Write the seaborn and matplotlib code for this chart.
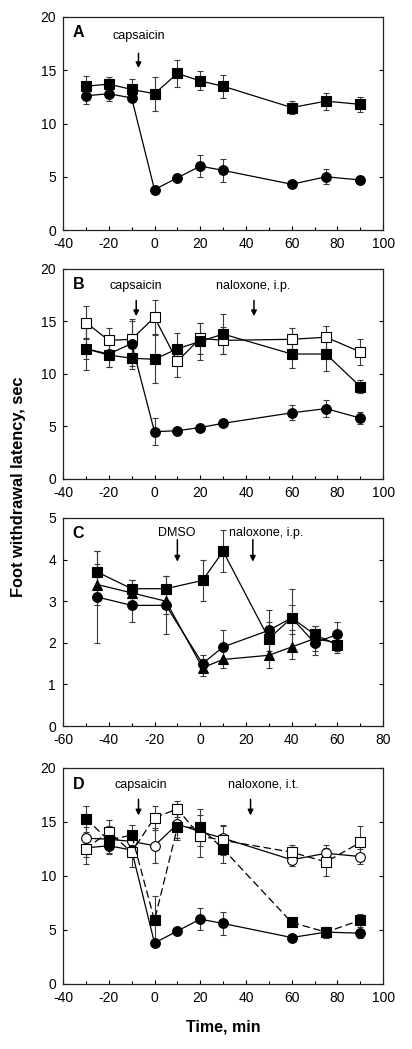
import matplotlib
matplotlib.use("Agg")
import matplotlib.pyplot as plt
from matplotlib.ticker import MultipleLocator
import pandas as pd
import seaborn as sns

# ---- data ----
# panel A
t_a = [-30, -20, -10, 0, 10, 20, 30, 60, 75, 90]
a_sq = [13.5, 13.7, 13.2, 12.8, 14.7, 14.0, 13.5, 11.5, 12.1, 11.8]
a_sq_err = [1.0, 0.7, 1.0, 1.6, 1.3, 0.9, 1.1, 0.6, 0.8, 0.7]
a_ci = [12.6, 12.8, 12.4, 3.8, 4.9, 6.0, 5.6, 4.3, 5.0, 4.7]
a_ci_err = [0.8, 0.7, 0.3, 0.2, 0.4, 1.0, 1.1, 0.3, 0.7, 0.4]

# panel B
t_b = [-30, -20, -10, 0, 10, 20, 30, 60, 75, 90]
b_osq = [14.9, 13.2, 13.3, 15.4, 11.2, 13.4, 13.2, 13.3, 13.5, 12.1]
b_osq_err = [1.6, 1.2, 1.9, 1.6, 1.5, 1.5, 1.3, 1.1, 1.1, 1.2]
b_sq = [12.4, 11.8, 11.5, 11.4, 12.4, 13.1, 13.8, 11.9, 11.9, 8.8]
b_sq_err = [1.0, 1.1, 1.0, 2.3, 1.5, 1.8, 1.9, 1.3, 1.6, 0.6]
b_ci = [12.4, 11.9, 12.9, 4.5, 4.6, 4.9, 5.3, 6.3, 6.7, 5.8]
b_ci_err = [2.0, 1.2, 2.1, 1.3, 0.2, 0.2, 0.3, 0.7, 0.8, 0.6]

# panel C
t_c = [-45, -30, -15, 1, 10, 30, 40, 50, 60]
c_sq = [3.7, 3.3, 3.3, 3.5, 4.2, 2.1, 2.6, 2.2, 1.95]
c_sq_err = [0.5, 0.2, 0.3, 0.5, 0.5, 0.4, 0.7, 0.2, 0.2]
c_ci = [3.1, 2.9, 2.9, 1.5, 1.9, 2.3, 2.6, 2.0, 2.2]
c_ci_err = [1.1, 0.4, 0.7, 0.2, 0.4, 0.5, 0.3, 0.3, 0.3]
c_tr = [3.4, 3.2, 3.0, 1.4, 1.6, 1.7, 1.9, 2.1, 2.0]
c_tr_err = [0.5, 0.3, 0.3, 0.2, 0.2, 0.3, 0.3, 0.3, 0.2]

# panel D
t_d = [-30, -20, -10, 0, 10, 20, 30, 60, 75, 90]
d_ci = [12.6, 12.8, 12.4, 3.8, 4.9, 6.0, 5.6, 4.3, 4.8, 4.7]
d_ci_err = [0.8, 0.7, 0.3, 0.2, 0.4, 1.0, 1.1, 0.3, 0.5, 0.4]
d_oci = [13.5, 13.4, 13.2, 12.8, 14.8, 14.1, 13.5, 11.5, 12.1, 11.8]
d_oci_err = [1.0, 0.7, 1.0, 1.6, 1.3, 0.9, 1.1, 0.6, 0.8, 0.7]
d_osq = [12.5, 14.1, 12.2, 15.4, 16.2, 13.7, 13.3, 12.2, 11.3, 13.1]
d_osq_err = [1.4, 1.1, 1.4, 1.1, 0.7, 1.9, 1.4, 0.7, 1.3, 1.5]
d_sq = [15.3, 13.3, 13.8, 5.9, 14.5, 14.5, 12.5, 5.7, 4.8, 5.9]
d_sq_err = [1.2, 1.3, 0.9, 2.2, 1.2, 1.7, 1.3, 0.3, 0.5, 0.6]

sns.set_style("ticks")
plt.rcParams['font.family'] = ['Liberation Sans', 'DejaVu Sans']
plt.rcParams['axes.unicode_minus'] = False
for k in ['text.color', 'xtick.color', 'ytick.color', 'axes.labelcolor',
          'axes.edgecolor']:
    plt.rcParams[k] = 'black'

fig = plt.figure(figsize=(4.12, 10.49), dpi=100)
L, W = 0.153, 0.777
boxes = [(0.7807, 0.2031), (0.5434, 0.2002), (0.3079, 0.1983), (0.0620, 0.2059)]
axes = [fig.add_axes([L, b, W, h]) for b, h in boxes]


def series(ax, t, y, err, marker, filled=True, ls='-'):
    df = pd.DataFrame({'t': t, 'y': y})
    ax.errorbar(t, y, yerr=err, fmt='none', ecolor='#3a3a3a', elinewidth=0.8,
                capsize=2, capthick=0.8, zorder=1)
    sns.lineplot(data=df, x='t', y='y', ax=ax, color='black', lw=0.9,
                 linestyle=ls, marker=marker, markersize=7,
                 markerfacecolor='black' if filled else 'white',
                 markeredgecolor='black', markeredgewidth=0.8, zorder=3)
    if ls != '-':
        ax.lines[-1].set_dashes([6, 3])


def arrow(ax, x, y0, y1, label, lx=None, ly=None):
    ax.annotate('', xy=(x, y1), xytext=(x, y0),
                arrowprops=dict(arrowstyle='-|>', color='black', lw=1.1,
                                mutation_scale=8, shrinkA=0, shrinkB=0))
    ax.text(x if lx is None else lx, ly, label, ha='center', va='center',
            fontsize=9)


series(axes[0], t_a, a_sq, a_sq_err, 's')
series(axes[0], t_a, a_ci, a_ci_err, 'o')
arrow(axes[0], -7, 16.6, 15.2, 'capsaicin', ly=18.2)

series(axes[1], t_b, b_osq, b_osq_err, 's', filled=False)
series(axes[1], t_b, b_sq, b_sq_err, 's')
series(axes[1], t_b, b_ci, b_ci_err, 'o')
arrow(axes[1], -8, 17.0, 15.5, 'capsaicin', ly=18.4)
arrow(axes[1], 43.5, 17.0, 15.5, 'naloxone, i.p.', lx=43, ly=18.4)

series(axes[2], t_c, c_sq, c_sq_err, 's')
series(axes[2], t_c, c_ci, c_ci_err, 'o')
series(axes[2], t_c, c_tr, c_tr_err, '^')
arrow(axes[2], -10, 4.48, 3.95, 'DMSO', lx=-10.4, ly=4.64)
arrow(axes[2], 23, 4.48, 3.95, 'naloxone, i.p.', lx=29, ly=4.64)

series(axes[3], t_d, d_oci, d_oci_err, 'o', filled=False)
series(axes[3], t_d, d_ci, d_ci_err, 'o')
series(axes[3], t_d, d_osq, d_osq_err, 's', filled=False, ls='--')
series(axes[3], t_d, d_sq, d_sq_err, 's', ls='--')
arrow(axes[3], -7, 17.1, 15.6, 'capsaicin', lx=-6, ly=18.45)
arrow(axes[3], 42, 17.1, 15.6, 'naloxone, i.t.', lx=47.5, ly=18.45)

letters = ['A', 'B', 'C', 'D']
for i, ax in enumerate(axes):
    if i == 2:
        ax.set_xlim(-60, 80)
        ax.set_ylim(0, 5)
        ax.xaxis.set_major_locator(MultipleLocator(20))
        ax.yaxis.set_major_locator(MultipleLocator(1))
    else:
        ax.set_xlim(-40, 100)
        ax.set_ylim(0, 20)
        ax.xaxis.set_major_locator(MultipleLocator(20))
        ax.yaxis.set_major_locator(MultipleLocator(5))
    ax.xaxis.set_minor_locator(MultipleLocator(10))
    ax.tick_params(which='both', direction='in', right=True, labelsize=10,
                   length=3, width=0.8, pad=5, colors='black')
    ax.tick_params(which='minor', length=2)
    ax.tick_params(axis='y', which='minor', right=False, left=False)
    for s in ax.spines.values():
        s.set_visible(True)
        s.set_linewidth(0.9)
        s.set_color('#222222')
    ax.set_xlabel('')
    ax.set_ylabel('')
    ax.text(0.048, 0.925, letters[i], transform=ax.transAxes, fontsize=11.5,
            fontweight='bold', ha='center', va='center')

fig.text(0.046, 0.536, 'Foot withdrawal latency, sec', rotation=90,
         ha='center', va='center', fontsize=11.8, fontweight='bold')
fig.text(0.542, 0.021, 'Time, min', ha='center', va='center',
         fontsize=11.5, fontweight='bold')

fig.savefig('out.png', dpi=100)
